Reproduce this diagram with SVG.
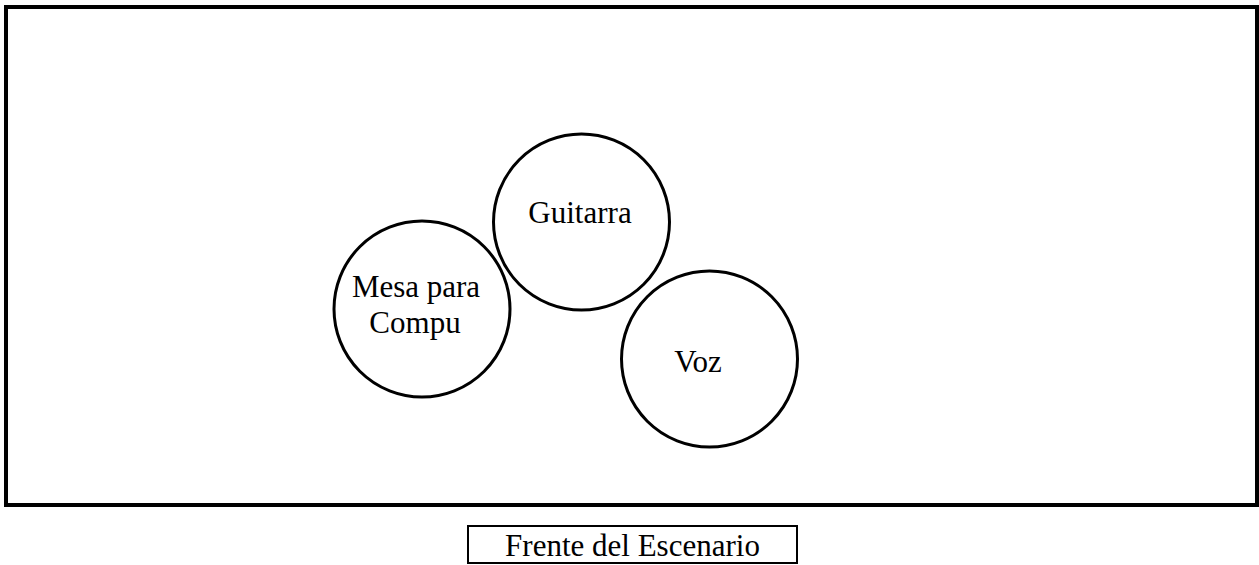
<svg xmlns="http://www.w3.org/2000/svg" width="1259" height="565" viewBox="0 0 1259 565">
<style>
.t{font-family:"Liberation Serif","Times New Roman",serif;font-size:31px;fill:#000;text-anchor:middle}
.c{fill:#fff;stroke:#000;stroke-width:3}
</style>
<rect x="0" y="0" width="1259" height="565" fill="#fff"/>
<g id="stage">
<rect x="6" y="7" width="1251" height="498" fill="#fff" stroke="#000" stroke-width="4"/>
</g>
<g id="mesa">
<circle class="c" cx="422" cy="309" r="88"/>
<text class="t" x="416" y="297">Mesa para</text>
<text class="t" x="415" y="333">Compu</text>
</g>
<g id="guitarra">
<circle class="c" cx="581.5" cy="222" r="88"/>
<text class="t" x="580" y="223">Guitarra</text>
</g>
<g id="voz">
<circle class="c" cx="709.5" cy="359" r="88"/>
<text class="t" x="698" y="372">Voz</text>
</g>
<g id="frente">
<rect x="468" y="526" width="329" height="37" fill="#fff" stroke="#000" stroke-width="2"/>
<text class="t" x="632.5" y="556">Frente del Escenario</text>
</g>
<g id="connectors"/>
</svg>
